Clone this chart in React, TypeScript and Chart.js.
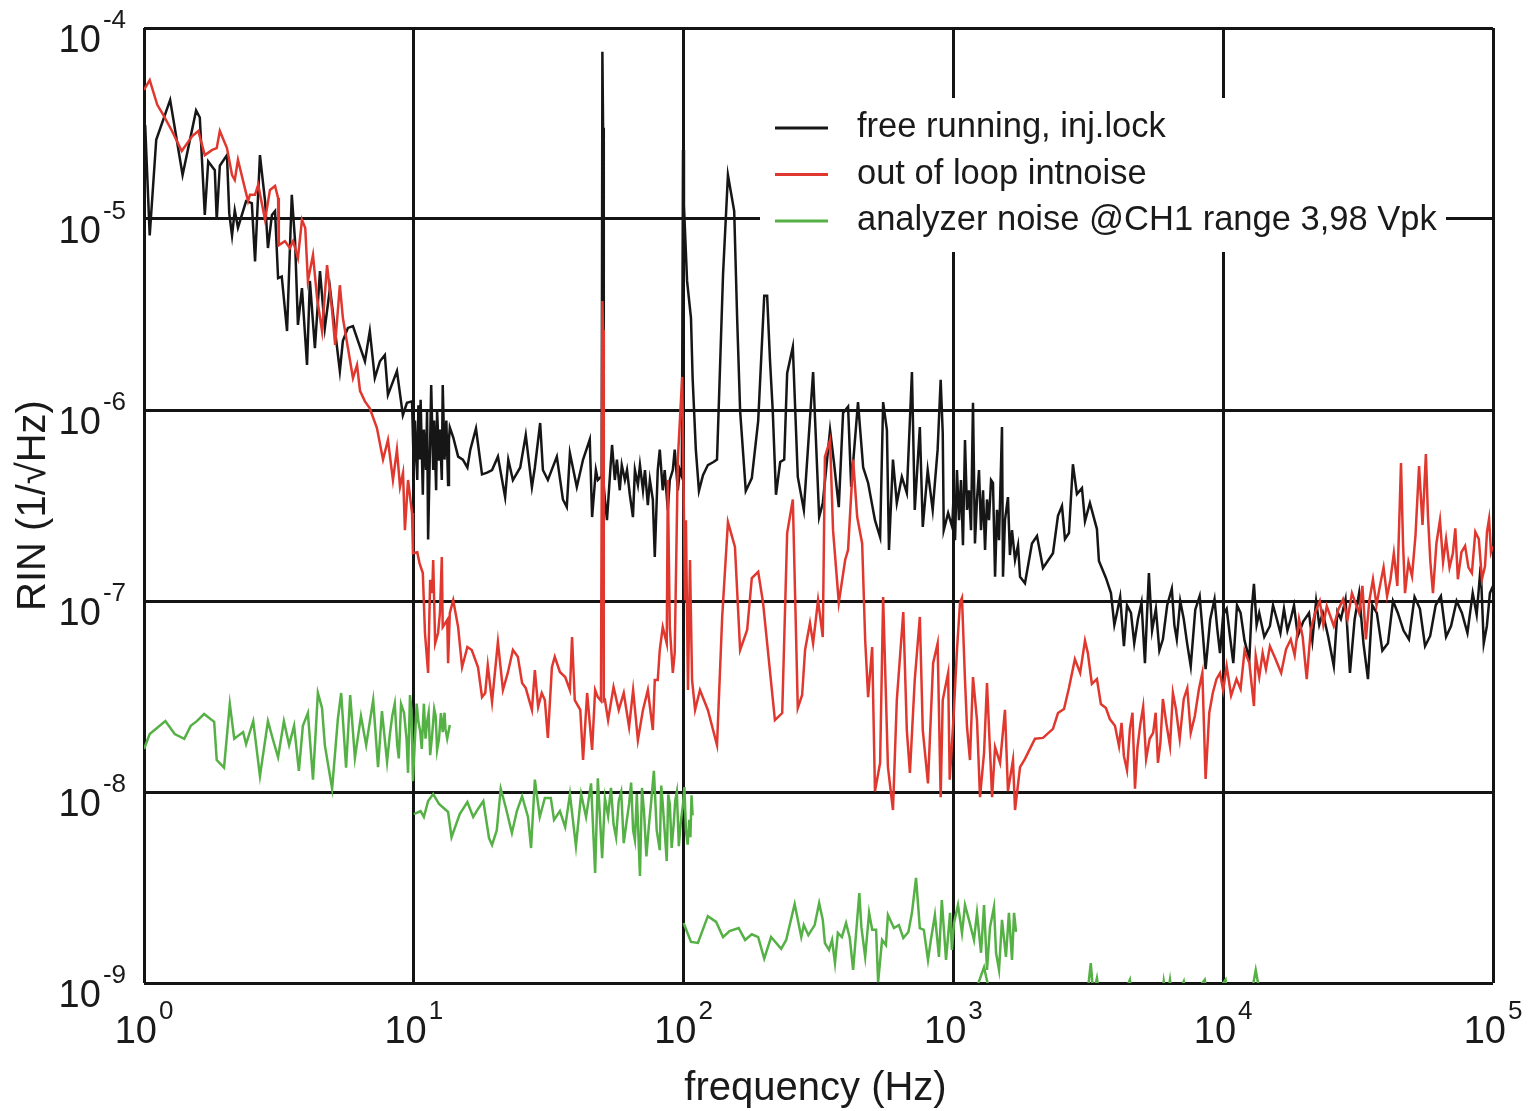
import React, { useEffect, useRef } from 'react';
import { Chart, registerables } from 'chart.js';

Chart.register(...registerables);

// ---------- axis / text data ----------
const xTickValues = [1, 10, 100, 1000, 10000, 100000];
const xTickExponents = ['0', '1', '2', '3', '4', '5'];
const yTickValues = [1e-9, 1e-8, 1e-7, 1e-6, 1e-5, 1e-4];
const yTickExponents = ['-9', '-8', '-7', '-6', '-5', '-4'];
const xTitle = 'frequency (Hz)';
const yTitle = 'RIN (1/\u221AHz)';
const legendLabels = [
  'free running, inj.lock',
  'out of loop intnoise',
  'analyzer noise @CH1 range 3,98 Vpk',
];

// ---------- series data: [frequency Hz, RIN 1/sqrt(Hz)] ----------
const blackLow: [number, number][] = [
  [1.01, 3.1e-5], [1.05, 8.2e-6], [1.11, 2.6e-5], [1.25, 4.2e-5], [1.39, 1.7e-5], [1.56, 3.7e-5],
  [1.61, 3.4e-5], [1.68, 1.05e-5], [1.73, 2.0e-5], [1.83, 1.8e-5], [1.86, 9.9e-6], [1.91, 1.9e-5],
  [2.03, 2.16e-5], [2.07, 1.07e-5], [2.12, 8.2e-6], [2.17, 1.11e-5], [2.23, 9.0e-6], [2.39, 1.24e-5],
  [2.51, 1.21e-5], [2.58, 6.0e-6], [2.69, 2.16e-5], [2.81, 1.24e-5], [2.88, 7.05e-6], [2.98, 1.05e-5],
  [3.06, 1.1e-5], [3.14, 4.9e-6], [3.24, 5.0e-6], [3.39, 2.59e-6], [3.53, 1.34e-5], [3.63, 7.66e-6],
  [3.72, 2.79e-6], [3.85, 4.35e-6], [4.02, 1.72e-6], [4.12, 4.74e-6], [4.30, 2.11e-6], [4.49, 5.34e-6],
  [4.68, 2.69e-6], [4.89, 4.35e-6], [5.32, 1.6e-6], [5.46, 2.3e-6], [5.70, 2.69e-6], [5.95, 2.75e-6],
  [6.21, 2.3e-6], [6.59, 1.8e-6], [6.87, 2.59e-6], [7.17, 1.47e-6], [7.49, 1.8e-6], [7.81, 1.94e-6],
  [8.02, 1.2e-6], [8.66, 1.6e-6], [9.11, 9.4e-7], [9.43, 1.09e-6], [9.85, 1.11e-6],
  [10.0, 4.85e-7], [10.1, 8.8e-7], [10.3, 4.3e-7], [10.4, 1.06e-6], [10.5, 5.5e-7], [10.6, 1.13e-6],
  [10.8, 3.6e-7], [10.9, 7.9e-7], [11.1, 4.85e-7], [11.2, 1.0e-6], [11.3, 2.1e-7], [11.5, 7.0e-7],
  [11.6, 1.35e-6], [11.8, 4.85e-7], [11.9, 8.8e-7], [12.1, 3.8e-7], [12.2, 1.0e-6], [12.4, 5.5e-7],
  [12.5, 7.9e-7], [12.7, 4.3e-7], [12.8, 1.35e-6], [13.0, 5.5e-7], [13.2, 8.8e-7], [13.4, 4.05e-7],
  [13.5, 7.0e-7], [13.6, 8.1e-7],
];
const blackMid: [number, number][] = [
  [14.0, 7.2e-7], [14.6, 5.7e-7], [15.2, 5.5e-7], [15.8, 5.0e-7], [16.2, 6.2e-7], [17.0, 8.0e-7],
  [17.9, 4.6e-7], [18.7, 4.7e-7], [19.5, 4.85e-7], [20.5, 5.7e-7], [21.8, 3.5e-7], [22.4, 5.5e-7],
  [23.3, 4.3e-7], [24.8, 5.0e-7], [26.0, 7.4e-7], [27.4, 3.95e-7], [28.1, 5.0e-7], [29.4, 8.55e-7],
  [30.1, 4.85e-7], [31.4, 4.3e-7], [33.9, 5.7e-7], [35.7, 3.4e-7], [36.9, 3.1e-7], [37.9, 5.95e-7],
  [40.2, 3.95e-7], [42.4, 5.5e-7], [44.9, 7.0e-7], [45.8, 2.75e-7], [47.3, 4.85e-7], [48.1, 4.3e-7],
  [49.7, 4.5e-7], [50.0, 7.5e-5], [50.3, 3.0e-5], [50.6, 4.0e-7],
  [51.1, 3.4e-7], [52.0, 2.65e-7], [53.5, 4.85e-7], [54.3, 6.56e-7], [55.6, 4.3e-7], [56.6, 5.5e-7],
  [58.0, 3.8e-7], [59.0, 5.15e-7], [60.6, 4.3e-7], [61.7, 4.85e-7], [63.2, 3.6e-7], [64.9, 2.75e-7],
  [66.0, 4.85e-7], [67.7, 4.05e-7], [68.9, 5.15e-7], [70.7, 3.8e-7], [71.9, 4.85e-7], [73.7, 3.18e-7],
  [75.0, 4.3e-7], [76.9, 3.4e-7], [78.2, 1.7e-7], [80.2, 4.85e-7], [81.6, 6.2e-7], [83.7, 3.8e-7],
  [85.1, 4.85e-7], [87.4, 3.0e-7], [88.9, 4.3e-7], [91.2, 4.85e-7], [92.7, 6.2e-7], [95.2, 3.8e-7],
  [96.8, 4.85e-7], [98.5, 4.5e-7], [99.5, 2.3e-5], [100.3, 1.18e-5], [103, 4.74e-6], [106.5, 3.03e-6],
  [108, 1.47e-6], [111, 6.2e-7], [114, 3.77e-7], [118, 4.56e-7], [123, 5.15e-7], [129, 5.34e-7],
  [133, 5.5e-7], [136, 1.44e-6], [140, 5.1e-6], [146, 1.7e-5], [154, 1.1e-5], [158, 2.96e-6],
  [162, 9.9e-7], [170, 3.77e-7], [179, 4.4e-7], [189, 8.76e-7], [199, 3.96e-6], [204, 3.96e-6],
  [209, 1.83e-6], [214, 9.9e-7], [220, 3.6e-7], [228, 5.34e-7], [236, 5.5e-7], [242, 1.56e-6],
  [254, 2.14e-6], [265, 4.46e-7], [279, 3.0e-7], [302, 1.58e-6], [318, 2.75e-7], [328, 3.26e-7],
  [349, 7.86e-7], [361, 5.28e-7], [376, 3.1e-7], [390, 9.65e-7], [407, 1.04e-6], [418, 3.96e-7],
  [443, 1.1e-6], [463, 5.0e-7], [483, 4.15e-7], [512, 2.65e-7], [535, 2.16e-7], [549, 1.1e-6],
  [567, 7.86e-7], [577, 1.85e-7], [597, 5.5e-7], [617, 3.26e-7], [644, 4.46e-7], [672, 3.68e-7],
  [702, 1.58e-6], [719, 3.0e-7], [751, 8.15e-7], [770, 2.44e-7], [803, 4.85e-7], [838, 3.0e-7],
  [874, 6.2e-7], [897, 1.44e-6], [913, 7.6e-7], [921, 2.35e-7], [956, 2.89e-7], [990, 2.44e-7],
];
const blackHigh: [number, number][] = [
  [1000, 3.4e-7], [1014, 2.08e-7], [1031, 4.85e-7], [1049, 2.65e-7], [1067, 4.3e-7], [1085, 1.96e-7],
  [1104, 6.96e-7], [1123, 3.0e-7], [1142, 3.8e-7], [1162, 2.35e-7], [1182, 1.09e-6], [1202, 2.0e-7],
  [1223, 3.4e-7], [1244, 4.85e-7], [1266, 2.35e-7], [1288, 3.8e-7], [1310, 1.85e-7], [1332, 3.4e-7],
  [1355, 2.65e-7], [1379, 4.3e-7], [1402, 4.15e-7], [1427, 1.34e-7], [1451, 3.0e-7], [1476, 2.08e-7],
  [1514, 8.15e-7], [1527, 1.34e-7], [1553, 2.65e-7], [1593, 3.5e-7], [1620, 1.74e-7], [1649, 2.35e-7],
  [1692, 1.64e-7], [1736, 1.96e-7], [1766, 1.34e-7], [1842, 1.24e-7], [1955, 2.0e-7], [2041, 2.19e-7],
  [2148, 1.49e-7], [2339, 1.78e-7], [2441, 2.79e-7], [2526, 3.14e-7], [2591, 2.11e-7], [2681, 2.27e-7],
  [2773, 5.2e-7], [2870, 3.63e-7], [2996, 3.9e-7], [3074, 2.62e-7], [3206, 3.26e-7], [3404, 2.38e-7],
  [3463, 1.62e-7], [3676, 1.32e-7], [3837, 1.1e-7], [3950, 7.5e-8], [4038, 8.66e-8], [4150, 1.05e-7],
  [4286, 5.8e-8], [4400, 9.5e-8], [4552, 8.66e-8], [4680, 6.0e-8], [4831, 8.05e-8], [4980, 9.8e-8],
  [5128, 4.73e-8], [5220, 8.5e-8], [5304, 1.4e-7], [5450, 7.0e-8], [5630, 9.1e-8], [5800, 5.5e-8],
  [5977, 6.3e-8], [6200, 9.5e-8], [6450, 1.16e-7], [6590, 7.5e-8], [6729, 6.3e-8], [6930, 1.0e-7],
  [7141, 8.05e-8], [7350, 6.0e-8], [7580, 4.56e-8], [7880, 9.0e-8], [8180, 1.06e-7], [8400, 6.8e-8],
  [8605, 4.4e-8], [8950, 8.0e-8], [9286, 1.02e-7], [9500, 7.2e-8], [9730, 5.34e-8], [10000, 8.5e-8],
  [10300, 9.1e-8], [10600, 6.5e-8], [10900, 4.73e-8], [11250, 9.5e-8], [11600, 8.66e-8], [12000, 6.2e-8],
  [12500, 4.96e-8], [12750, 9.0e-8], [13000, 1.23e-7], [13300, 7.5e-8], [13600, 8.66e-8], [14200, 6.5e-8],
  [14900, 7.4e-8], [15300, 9.5e-8], [15800, 8.05e-8], [16300, 6.8e-8], [16800, 9.1e-8], [17300, 7.0e-8],
  [17800, 8.05e-8], [18300, 9.5e-8], [18900, 6.56e-8], [19800, 7.8e-8], [20800, 8.66e-8], [21400, 6.2e-8],
  [22100, 1.0e-7], [22700, 7.5e-8], [23400, 8.66e-8], [24500, 6.5e-8], [25700, 4.56e-8], [26500, 8.8e-8],
  [27300, 8.05e-8], [28400, 1.02e-7], [29500, 4.2e-8], [30700, 8.0e-8], [31900, 1.1e-7], [33100, 6.0e-8],
  [34400, 3.9e-8], [35700, 9.5e-8], [37100, 8.66e-8], [38900, 5.5e-8], [40800, 6.0e-8], [42600, 1.0e-7],
  [44400, 8.66e-8], [46600, 7.0e-8], [48800, 6.3e-8], [51200, 1.05e-7], [53600, 9.1e-8], [56000, 5.8e-8],
  [58500, 6.56e-8], [61300, 9.5e-8], [64100, 1.06e-7], [67000, 6.5e-8], [69900, 7.4e-8], [73300, 1.0e-7],
  [76700, 8.66e-8], [80400, 6.8e-8], [84100, 1.1e-7], [87000, 8.5e-8], [90000, 1.52e-7], [92400, 6.0e-8],
  [94900, 7.4e-8], [97400, 1.1e-7], [100000, 1.2e-7],
];

const redLow: [number, number][] = [
  [1.0, 4.74e-5], [1.05, 5.34e-5], [1.12, 3.96e-5], [1.18, 3.5e-5], [1.27, 2.89e-5], [1.38, 2.27e-5],
  [1.51, 2.72e-5], [1.59, 2.89e-5], [1.68, 2.16e-5], [1.79, 2.3e-5], [1.86, 2.35e-5], [1.91, 2.89e-5],
  [2.03, 2.35e-5], [2.12, 1.7e-5], [2.17, 1.6e-5], [2.23, 2.04e-5], [2.33, 1.58e-5], [2.43, 1.24e-5],
  [2.47, 1.34e-5], [2.58, 1.34e-5], [2.65, 1.51e-5], [2.81, 9.9e-6], [2.93, 1.42e-5], [3.06, 1.49e-5],
  [3.14, 1.29e-5], [3.16, 7.3e-6], [3.33, 7.66e-6], [3.47, 7.05e-6], [3.57, 7.66e-6], [3.72, 6.25e-6],
  [3.85, 9.9e-6], [3.96, 8.97e-6], [4.05, 4.74e-6], [4.23, 6.48e-6], [4.38, 3.86e-6], [4.57, 2.59e-6],
  [4.77, 5.74e-6], [4.98, 3.3e-6], [5.11, 2.19e-6], [5.32, 4.5e-6], [5.46, 3.03e-6], [5.70, 2.11e-6],
  [5.95, 1.47e-6], [6.16, 1.72e-6], [6.32, 1.26e-6], [6.59, 1.11e-6], [6.87, 1.02e-6], [7.30, 8.05e-7],
  [7.69, 5.5e-7], [8.02, 6.96e-7], [8.37, 4.3e-7], [8.66, 6.2e-7], [8.89, 3.96e-7], [9.12, 4.68e-7],
  [9.27, 2.35e-7], [9.52, 4.3e-7], [9.85, 2.89e-7], [9.93, 1.78e-7],
];
const redMid: [number, number][] = [
  [10.3, 1.8e-7], [10.5, 1.58e-7], [10.8, 1.4e-7], [11.0, 6.8e-8], [11.3, 4.2e-8], [11.5, 1.29e-7],
  [11.7, 1.1e-7], [11.8, 1.64e-7], [12.0, 6.0e-8], [12.3, 6.8e-8], [12.5, 8.66e-8], [12.7, 1.7e-7],
  [12.8, 7.3e-8], [13.3, 7.95e-8], [13.4, 4.73e-8], [13.6, 8.66e-8], [14.0, 1.01e-7], [14.6, 7.3e-8],
  [15.1, 4.5e-8], [15.8, 5.74e-8], [16.4, 5.54e-8], [17.3, 4.5e-8], [17.9, 3.14e-8], [18.4, 3.3e-8],
  [18.8, 4.6e-8], [19.5, 2.96e-8], [20.5, 6.1e-8], [21.4, 3.42e-8], [22.3, 4.2e-8], [23.3, 5.54e-8],
  [24.3, 5.1e-8], [25.2, 3.72e-8], [26.0, 3.5e-8], [27.4, 2.69e-8], [28.1, 4.35e-8], [28.9, 2.79e-8],
  [29.8, 3.3e-8], [30.6, 3.03e-8], [31.4, 1.92e-8], [32.5, 4.5e-8], [33.3, 5.1e-8], [34.8, 4.25e-8],
  [36.4, 4.0e-8], [37.9, 3.42e-8], [38.6, 6.48e-8], [39.5, 3.03e-8], [41.4, 2.69e-8], [42.4, 1.47e-8],
  [43.9, 3.3e-8], [45.8, 1.66e-8], [47.0, 3.42e-8], [48.1, 3.14e-8], [49.4, 3.0e-8], [50.0, 3.72e-6],
  [50.3, 2.62e-6], [50.6, 3.0e-8], [51.1, 3.03e-8], [52.5, 2.38e-8], [55.0, 3.55e-8], [57.5, 2.69e-8],
  [60.0, 3.3e-8], [62.8, 2.19e-8], [65.0, 3.42e-8], [67.7, 1.87e-8], [70.7, 2.69e-8], [73.7, 3.42e-8],
  [76.9, 2.11e-8], [78.2, 3.86e-8], [80.2, 3.86e-8], [81.6, 5.54e-8], [83.7, 7.3e-8], [86.6, 6.0e-8],
  [87.4, 4.3e-7], [88.9, 7.3e-8], [91.2, 4.2e-8], [92.7, 5.34e-8], [95.2, 5.5e-7], [98.8, 1.49e-6],
  [101.2, 1.01e-7], [102, 2.65e-7], [103.8, 3.42e-8], [105.6, 1.64e-7], [107.5, 3.86e-8], [110.3, 2.69e-8],
  [115, 3.42e-8], [123, 2.69e-8], [133, 1.76e-8], [139, 8.25e-8], [146, 2.59e-7], [155, 1.92e-7],
  [162, 5.54e-8], [172, 7.05e-8], [179, 1.32e-7], [189, 1.42e-7], [197, 9.8e-8], [218, 2.38e-8],
  [232, 2.59e-8], [242, 2.27e-7], [254, 3.4e-7], [265, 2.75e-8], [275, 3.22e-8], [282, 5.54e-8],
  [294, 7.66e-8], [302, 6.0e-8], [315, 1.01e-7], [328, 6.48e-8], [334, 5.67e-7], [349, 6.96e-7],
  [358, 2.35e-7], [376, 9.8e-8], [397, 1.64e-7], [407, 1.85e-7], [425, 5.5e-7], [440, 2.75e-7],
  [459, 2.0e-7], [471, 6.25e-8], [483, 3.14e-8], [500, 5.74e-8], [512, 1.01e-8], [535, 1.42e-8],
  [549, 1.05e-7], [572, 1.35e-8], [597, 8.05e-9], [617, 3.03e-8], [652, 8.76e-8], [672, 2.11e-8],
  [690, 1.26e-8], [719, 3.86e-8], [751, 8.25e-8], [770, 2.11e-8], [805, 1.11e-8], [841, 4.73e-8],
  [874, 6.0e-8], [897, 9.4e-9], [913, 3.03e-8], [956, 4.2e-8], [969, 1.16e-8],
];
const redHigh: [number, number][] = [
  [1000, 2.38e-8], [1031, 5.54e-8], [1058, 9.8e-8], [1076, 1.04e-7], [1104, 3.86e-8], [1123, 2.19e-8],
  [1152, 1.47e-8], [1182, 4.0e-8], [1223, 2.38e-8], [1255, 9.4e-9], [1299, 1.6e-8], [1332, 3.72e-8],
  [1391, 9.4e-9], [1427, 1.72e-8], [1489, 1.42e-8], [1553, 2.69e-8], [1593, 1.01e-8], [1663, 1.47e-8],
  [1692, 8.05e-9], [1766, 1.35e-8], [1842, 1.49e-8], [2006, 1.9e-8], [2148, 1.92e-8], [2339, 2.14e-8],
  [2441, 2.59e-8], [2570, 2.72e-8], [2681, 3.5e-8], [2820, 4.96e-8], [2950, 4.2e-8], [3074, 6.2e-8],
  [3150, 5.34e-8], [3260, 3.68e-8], [3404, 3.9e-8], [3520, 2.89e-8], [3676, 2.75e-8], [3800, 2.41e-8],
  [3970, 2.22e-8], [4110, 1.74e-8], [4200, 2.3e-8], [4286, 1.54e-8], [4400, 1.3e-8], [4510, 2.14e-8],
  [4610, 2.6e-8], [4710, 1.04e-8], [4810, 1.7e-8], [4920, 2.22e-8], [5050, 2.8e-8], [5180, 1.49e-8],
  [5340, 1.9e-8], [5500, 2.04e-8], [5620, 2.6e-8], [5730, 1.42e-8], [5850, 1.8e-8], [5977, 3.07e-8],
  [6150, 2.3e-8], [6350, 1.74e-8], [6510, 3.3e-8], [6680, 2.72e-8], [6900, 1.9e-8], [7141, 3.07e-8],
  [7360, 3.5e-8], [7580, 2.04e-8], [7850, 2.5e-8], [8130, 3.46e-8], [8370, 4.2e-8], [8605, 1.17e-8],
  [8880, 2.6e-8], [9150, 3.3e-8], [9440, 3.9e-8], [9730, 4.2e-8], [10000, 3.4e-8], [10300, 4.56e-8],
  [10700, 3.2e-8], [11200, 3.9e-8], [11600, 3.46e-8], [12000, 5.5e-8], [12500, 4.73e-8], [13000, 2.82e-8],
  [13200, 5.15e-8], [13600, 4.0e-8], [14000, 5.34e-8], [14400, 4.4e-8], [14900, 5.8e-8], [15600, 5.0e-8],
  [16400, 4.2e-8], [17100, 5.6e-8], [17800, 6.3e-8], [18400, 5.2e-8], [19100, 8.05e-8], [19700, 6.5e-8],
  [20400, 3.9e-8], [21100, 7.0e-8], [21900, 8.66e-8], [22800, 1.0e-7], [23500, 7.5e-8], [24200, 9.4e-8],
  [25700, 7.4e-8], [26700, 9.0e-8], [27800, 1.02e-7], [28900, 8.0e-8], [30000, 1.1e-7], [31900, 8.66e-8],
  [32800, 1.2e-7], [33800, 6.3e-8], [34800, 1.0e-7], [35900, 1.3e-7], [37000, 9.5e-8], [38100, 1.2e-7],
  [39300, 1.5e-7], [40500, 1.06e-7], [41700, 1.3e-7], [42900, 1.78e-7], [44200, 1.2e-7], [45600, 5.28e-7],
  [46400, 2.0e-7], [47200, 1.1e-7], [48600, 1.6e-7], [50100, 1.35e-7], [51600, 2.2e-7], [53200, 5.09e-7],
  [54800, 2.5e-7], [56400, 5.88e-7], [57400, 2.79e-7], [58600, 1.6e-7], [59900, 1.1e-7], [61700, 2.0e-7],
  [63600, 2.65e-7], [65300, 1.6e-7], [67000, 2.11e-7], [69000, 1.5e-7], [71000, 1.78e-7], [72500, 2.4e-7],
  [74100, 1.3e-7], [76400, 1.8e-7], [78800, 1.94e-7], [81100, 1.5e-7], [83500, 1.4e-7], [86000, 2.3e-7],
  [88600, 2.11e-7], [91000, 1.3e-7], [93400, 1.52e-7], [95000, 2.3e-7], [96700, 2.69e-7], [98300, 1.8e-7],
  [100000, 1.94e-7],
];

const greenSpan1: [number, number][] = [
  [1.0, 1.68e-8], [1.05, 2.01e-8], [1.2, 2.35e-8], [1.3, 2.01e-8], [1.41, 1.9e-8], [1.49, 2.22e-8],
  [1.57, 2.35e-8], [1.67, 2.56e-8], [1.82, 2.33e-8], [1.86, 1.47e-8], [1.98, 1.34e-8], [2.08, 2.89e-8],
  [2.16, 1.9e-8], [2.33, 2.06e-8], [2.39, 1.78e-8], [2.54, 2.35e-8], [2.69, 1.21e-8], [2.88, 2.35e-8],
  [3.0, 1.9e-8], [3.14, 1.52e-8], [3.3, 2.35e-8], [3.45, 1.76e-8], [3.6, 2.22e-8], [3.75, 1.29e-8],
  [3.88, 2.22e-8], [4.05, 2.59e-8], [4.23, 1.16e-8], [4.41, 3.3e-8], [4.57, 2.75e-8], [4.68, 1.76e-8],
  [4.98, 1.04e-8], [5.23, 2.41e-8], [5.38, 3.3e-8], [5.61, 1.34e-8], [5.81, 3.22e-8], [6.05, 1.51e-8],
  [6.37, 2.5e-8], [6.66, 1.76e-8], [7.07, 3.03e-8], [7.37, 1.35e-8], [7.62, 2.65e-8], [7.96, 1.44e-8],
  [8.15, 2.0e-8], [8.32, 2.5e-8], [8.5, 2.9e-8], [8.68, 1.76e-8], [8.8, 1.5e-8], [8.97, 2.89e-8],
  [9.2, 2.6e-8], [9.4, 1.9e-8], [9.52, 1.26e-8], [9.68, 3.22e-8], [9.8, 2.7e-8], [9.93, 1.14e-8],
  [10.1, 1.9e-8], [10.25, 2.9e-8], [10.4, 2.33e-8], [10.55, 2.1e-8], [10.7, 1.68e-8], [10.9, 2.9e-8],
  [11.05, 1.9e-8], [11.2, 2.33e-8], [11.35, 2.6e-8], [11.5, 1.56e-8], [11.7, 2.0e-8], [11.9, 2.72e-8],
  [12.05, 2.5e-8], [12.2, 1.66e-8], [12.4, 1.9e-8], [12.6, 2.59e-8], [12.8, 2.06e-8], [13.0, 2.6e-8],
  [13.1, 2.14e-8], [13.3, 1.9e-8], [13.6, 2.24e-8],
];
const greenSpan2: [number, number][] = [
  [10.0, 7.66e-9], [10.6, 7.95e-9], [10.9, 7.4e-9], [11.3, 8.97e-9], [11.8, 9.75e-9], [12.4, 8.66e-9],
  [13.4, 7.86e-9], [13.8, 5.8e-9], [14.8, 7.66e-9], [15.8, 8.86e-9], [16.6, 7.4e-9], [17.3, 8.15e-9],
  [18.1, 8.97e-9], [19.0, 5.74e-9], [19.5, 5.28e-9], [20.3, 6.3e-9], [21.0, 1.04e-8], [21.9, 8.35e-9],
  [23.1, 6.1e-9], [24.1, 7.95e-9], [25.2, 9.5e-9], [26.5, 7.4e-9], [27.2, 5.09e-9], [28.1, 1.16e-8],
  [29.3, 7.4e-9], [30.6, 9.3e-9], [32.2, 9.3e-9], [33.1, 7.15e-9], [34.8, 7.95e-9], [36.4, 6.56e-9],
  [37.9, 9.75e-9], [39.9, 5.2e-9], [41.7, 9.75e-9], [43.5, 7.4e-9], [45.4, 1.11e-8], [47.0, 3.77e-9],
  [48.1, 1.18e-8], [49.9, 4.5e-9], [51.1, 9.3e-9], [52.5, 7.5e-9], [53.8, 1.05e-8], [55.0, 6.8e-9],
  [56.2, 5.8e-9], [57.5, 8.97e-9], [58.7, 1.0e-8], [60.0, 5.4e-9], [61.4, 6.9e-9], [62.8, 8.66e-9],
  [63.9, 1.12e-8], [65.0, 6.3e-9], [66.0, 5.6e-9], [67.1, 9.75e-9], [68.9, 3.63e-9], [70.1, 1.05e-8],
  [71.3, 7.95e-9], [72.8, 4.6e-9], [74.3, 6.56e-9], [76.0, 9.2e-9], [77.6, 1.29e-8], [79.5, 6.3e-9],
  [81.6, 4.96e-9], [82.6, 1.08e-8], [83.7, 8.66e-9], [85.1, 6.2e-9], [86.6, 4.35e-9], [87.7, 9.7e-9],
  [88.9, 8.66e-9], [90.3, 5.1e-9], [91.9, 6.8e-9], [93.1, 9.0e-9], [94.4, 1.0e-8], [96.0, 5.2e-9],
  [97.7, 7.0e-9], [99.5, 8.66e-9], [100.7, 1.06e-8], [102, 6.3e-9], [103.5, 5.3e-9], [105, 7.15e-9],
  [106, 5.8e-9], [107, 9.6e-9], [108, 7.55e-9],
];
const greenSpan3: [number, number][] = [
  [100, 2.06e-9], [106.5, 1.64e-9], [113, 1.62e-9], [123, 2.24e-9], [132, 2.09e-9], [140, 1.74e-9],
  [148, 1.87e-9], [160, 1.94e-9], [169, 1.68e-9], [179, 1.8e-9], [189, 1.74e-9], [199, 1.34e-9],
  [211, 1.74e-9], [230, 1.51e-9], [240, 1.68e-9], [258, 2.59e-9], [273, 1.74e-9], [279, 2.01e-9],
  [290, 1.78e-9], [306, 2.01e-9], [318, 2.62e-9], [328, 2.14e-9], [334, 1.62e-9], [346, 1.49e-9],
  [355, 1.68e-9], [364, 1.27e-9], [373, 1.83e-9], [386, 1.74e-9], [400, 2.06e-9], [413, 1.72e-9],
  [425, 1.17e-9], [448, 2.96e-9], [456, 1.96e-9], [471, 1.37e-9], [487, 2.33e-9], [500, 1.9e-9],
  [517, 1.9e-9], [526, 1.01e-9], [544, 1.68e-9], [562, 1.58e-9], [572, 2.27e-9], [602, 1.94e-9],
  [628, 2.01e-9], [652, 1.72e-9], [681, 1.85e-9], [702, 2.33e-9], [727, 3.55e-9], [751, 1.94e-9],
  [777, 1.9e-9], [805, 1.32e-9], [825, 1.68e-9], [854, 2.27e-9], [884, 1.37e-9], [906, 2.72e-9],
  [939, 1.32e-9], [972, 2.33e-9], [988, 1.49e-9], [1005, 2.06e-9], [1040, 2.56e-9], [1076, 1.83e-9],
  [1104, 2.56e-9], [1142, 2.14e-9], [1192, 1.68e-9], [1223, 2.33e-9], [1266, 1.44e-9], [1299, 2.56e-9],
  [1332, 1.17e-9], [1367, 1.96e-9], [1414, 2.5e-9], [1439, 1.44e-9], [1476, 1.17e-9], [1514, 2.14e-9],
  [1566, 1.37e-9], [1606, 2.33e-9], [1649, 1.32e-9], [1678, 2.33e-9], [1707, 1.85e-9],
];
const greenSpan4: [number, number][] = [
  [1212, 9.2e-10], [1299, 1.21e-9], [1367, 8.7e-10], [1489, 7.2e-10], [1692, 6.4e-10], [2006, 6.8e-10],
  [2390, 6.0e-10], [2820, 7.2e-10], [3150, 9.2e-10], [3230, 1.27e-9], [3300, 8.7e-10], [3404, 1.06e-9],
  [3520, 7.7e-10], [3970, 6.8e-10], [4510, 1.04e-9], [4620, 7.7e-10], [5350, 6.8e-10], [5910, 8.1e-10],
  [6020, 1.02e-9], [6170, 8.1e-10], [6350, 1.04e-9], [6520, 7.7e-10], [7141, 1.02e-9], [7330, 7.7e-10],
  [8540, 1.04e-9], [8770, 7.7e-10], [10200, 1.04e-9], [10400, 7.7e-10], [12600, 8.1e-10], [13200, 1.17e-9],
  [13500, 9.8e-10], [13900, 7.2e-10],
];

// ---------- styling ----------
const FONT = '"Liberation Sans", Arial, Helvetica, sans-serif';
const INK = '#1a1a1a';
const BLACK = '#161616';
const RED = '#e0382f';
const GREEN = '#55b145';
const legendColors = [BLACK, RED, GREEN];

const toXY = (arr: [number, number][]) => arr.map(([x, y]) => ({ x, y }));

const overlayPlugin = {
  id: 'overlayText',
  afterDraw(chart: any) {
    const { ctx, chartArea, scales } = chart;
    const xs = scales.x;
    const ys = scales.y;
    ctx.save();
    ctx.fillStyle = INK;
    ctx.textBaseline = 'alphabetic';

    // x tick labels 10^n
    xTickValues.forEach((v, i) => {
      const px = xs.getPixelForValue(v);
      ctx.font = `38px ${FONT}`;
      const wb = ctx.measureText('10').width;
      ctx.font = `26px ${FONT}`;
      const we = ctx.measureText(xTickExponents[i]).width;
      const gap = 2;
      const start = px - (wb + gap + we) / 2;
      ctx.font = `38px ${FONT}`;
      ctx.textAlign = 'left';
      ctx.fillText('10', start, chartArea.bottom + 60);
      ctx.font = `26px ${FONT}`;
      ctx.fillText(xTickExponents[i], start + wb + gap, chartArea.bottom + 36);
    });

    // y tick labels 10^n
    yTickValues.forEach((v, i) => {
      const py = ys.getPixelForValue(v);
      const right = chartArea.left - 18;
      ctx.font = `26px ${FONT}`;
      const we = ctx.measureText(yTickExponents[i]).width;
      ctx.textAlign = 'left';
      ctx.fillText(yTickExponents[i], right - we, py);
      ctx.font = `38px ${FONT}`;
      ctx.textAlign = 'right';
      ctx.fillText('10', right - we - 2, py + 24);
    });

    // axis titles
    ctx.font = `40px ${FONT}`;
    ctx.textAlign = 'center';
    ctx.fillText(xTitle, (chartArea.left + chartArea.right) / 2 - 3, chartArea.bottom + 117);
    ctx.save();
    ctx.translate(chartArea.left - 99, (chartArea.top + chartArea.bottom) / 2);
    ctx.rotate(-Math.PI / 2);
    ctx.fillText(yTitle, 0, 0);
    ctx.restore();

    // legend (white box interrupts the grid)
    const lx = chartArea.left + 616;
    const ly = chartArea.top + 70;
    ctx.fillStyle = '#ffffff';
    ctx.fillRect(lx, ly, 686, 154);
    ctx.font = `34.5px ${FONT}`;
    ctx.textAlign = 'left';
    legendLabels.forEach((label, i) => {
      const yLine = chartArea.top + 100 + i * 46.5;
      ctx.strokeStyle = legendColors[i];
      ctx.lineWidth = 3;
      ctx.beginPath();
      ctx.moveTo(chartArea.left + 631, yLine);
      ctx.lineTo(chartArea.left + 684, yLine);
      ctx.stroke();
      ctx.fillStyle = INK;
      ctx.fillText(label, chartArea.left + 713, yLine + 9);
    });
    ctx.restore();
  },
};

export default function App() {
  const canvasRef = useRef<HTMLCanvasElement | null>(null);

  useEffect(() => {
    const canvas = canvasRef.current;
    if (!canvas) return;
    const line = (data: [number, number][], color: string, order: number) => ({
      data: toXY(data),
      borderColor: color,
      backgroundColor: color,
      borderWidth: 2.5,
      pointRadius: 0,
      pointHoverRadius: 0,
      showLine: true,
      fill: false,
      tension: 0,
      borderJoinStyle: 'miter' as const,
      order,
      clip: 0,
    });
    const grid = {
      color: '#141414',
      lineWidth: 3,
      drawTicks: false,
      tickLength: 0,
    };
    const chart = new Chart(canvas, {
      type: 'scatter',
      data: {
        datasets: [
          line([...blackLow, ...blackMid, ...blackHigh], BLACK, 3),
          line([...redLow, ...redMid, ...redHigh], RED, 2),
          line(greenSpan1, GREEN, 1),
          line(greenSpan2, GREEN, 1),
          line(greenSpan3, GREEN, 1),
          line(greenSpan4, GREEN, 1),
        ],
      },
      options: {
        responsive: false,
        animation: false,
        devicePixelRatio: 1,
        events: [],
        layout: { padding: { left: 0, top: 28, right: 39, bottom: 0 } },
        plugins: { legend: { display: false }, tooltip: { enabled: false }, title: { display: false } },
        scales: {
          x: {
            type: 'logarithmic',
            position: 'bottom',
            min: 1,
            max: 1e5,
            afterBuildTicks: (s: any) => {
              s.ticks = xTickValues.map((value) => ({ value }));
            },
            afterFit: (s: any) => {
              s.height = 128;
            },
            ticks: { display: false },
            border: { display: false },
            grid,
          },
          y: {
            type: 'logarithmic',
            position: 'left',
            min: 1e-9,
            max: 1e-4,
            afterBuildTicks: (s: any) => {
              s.ticks = yTickValues.map((value) => ({ value }));
            },
            afterFit: (s: any) => {
              s.width = 144;
            },
            ticks: { display: false },
            border: { display: false },
            grid,
          },
        },
      } as any,
      plugins: [overlayPlugin],
    });
    return () => chart.destroy();
  }, []);

  return (
    <div style={{ position: 'fixed', left: 0, top: 0, width: 1532, height: 1111, background: '#ffffff' }}>
      <canvas ref={canvasRef} width={1532} height={1111} style={{ display: 'block', width: 1532, height: 1111 }} />
    </div>
  );
}
